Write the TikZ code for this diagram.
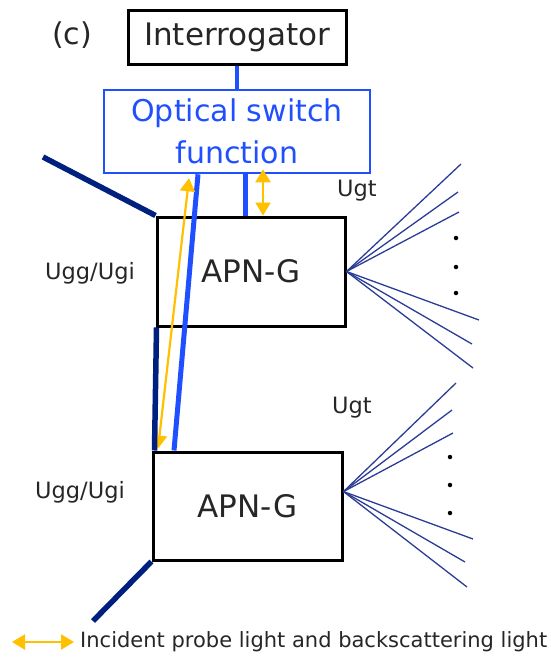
\documentclass[tikz,border=0pt]{standalone}
\usepackage{fontspec}
\setmainfont{DejaVu Sans}
\usetikzlibrary{arrows.meta,calc}
\definecolor{navyc}{HTML}{002080}
\definecolor{bluec}{HTML}{1F4FFF}
\definecolor{yellc}{HTML}{FFC000}
\definecolor{fanc}{HTML}{2A3C96}
\definecolor{txtc}{HTML}{262626}
\tikzset{
  box/.style={draw=black,line width=3pt,inner sep=0pt,text=txtc},
  swbox/.style={draw=bluec,line width=2.6pt,inner sep=0pt,text=bluec},
  bigtxt/.style={font=\fontsize{31}{37}\selectfont},
  lbl/.style={text=txtc,font=\fontsize{22.5}{27}\selectfont,inner sep=0pt},
  navyline/.style={draw=navyc,line width=5.5pt},
  blueline/.style={draw=bluec,line width=5pt},
  yarrow/.style={draw=yellc,line width=2.2pt,{Triangle[width=15pt,length=13pt]}-{Triangle[width=15pt,length=13pt]}},
  fanline/.style={draw=fanc,line width=1.3pt},
  dotc/.style={circle,fill=black,inner sep=0pt,minimum size=4.5pt}
}
\begin{document}
\begin{tikzpicture}[x=1pt,y=-1pt]
\useasboundingbox (0,0) rectangle (550,657);
% nodes
\node[lbl,font=\fontsize{30}{36}\selectfont] (lc) at (72,35) {(c)};
\node[box,bigtxt,minimum width=218pt,minimum height=54pt] (intg) at (237,37) {Interrogator};
\node[swbox,minimum width=266pt,minimum height=83pt,align=center,font=\fontsize{30}{42}\selectfont] (osw) at (237,131.5) {Optical switch\\function};
\node[box,bigtxt,minimum width=188pt,minimum height=109pt] (apn1) at (251,271.5) {APN-G};
\node[box,bigtxt,minimum width=189pt,minimum height=108pt] (apn2) at (247.5,506) {APN-G};
\node[lbl] (ugt1) at (357,191) {Ugt};
\node[lbl] (ugt2) at (352,408) {Ugt};
\node[lbl] (ugg1) at (90,273) {Ugg/Ugi};
\node[lbl] (ugg2) at (80,492) {Ugg/Ugi};
% free ends
\coordinate (n1) at (43,157);
\coordinate (n3) at (93,621);
% connectors
\draw[bluec,line width=4.5pt] (intg.south) -- (osw.north);
\draw[blueline] ($(osw.south)+(8,0)$) -- ($(apn1.north)+(-6,0)$);
\draw[yarrow] ($(osw.south)+(26,-5)$) -- ($(apn1.north)+(12,0)$);
\draw[blueline] ($(osw.south)+(-39,0)$) -- ($(apn2.north)+(-73.5,0)$);
\draw[yarrow] ($(osw.south)+(-48,4)$) -- ($(apn2.north)+(-89.5,-2)$);
\draw[navyline] (n1) -- (apn1.north west);
\draw[navyline] ($(apn1.south west)+(1,0)$) -- ($(apn2.north west)+(3,0)$);
\draw[navyline] (apn2.south west) -- (n3);
% fans
\coordinate (f1) at (apn1.east);
\foreach \p in {(461,164),(458,192),(459,212),(479,320),(472,344),(473,368)}
  \draw[fanline] (f1) -- \p;
\foreach \yy in {238,267,293} \node[dotc] at (456,\yy) {};
\coordinate (f2) at ($(apn2.north east)!0.37!(apn2.south east)$);
\foreach \p in {(456,383),(452,410),(453,433),(473,539),(465,562),(467,587)}
  \draw[fanline] (f2) -- \p;
\foreach \yy in {457,485,513} \node[dotc] at (450,\yy) {};
% legend
\coordinate (la) at (12,642);
\node[text=txtc,font=\fontsize{21}{25}\selectfont,inner sep=0pt,anchor=west] (lt) at (80,642) {Incident probe light and backscattering light};
\draw[yarrow] (la) -- ($(lt.west)+(-6,0)$);
\end{tikzpicture}
\end{document}
